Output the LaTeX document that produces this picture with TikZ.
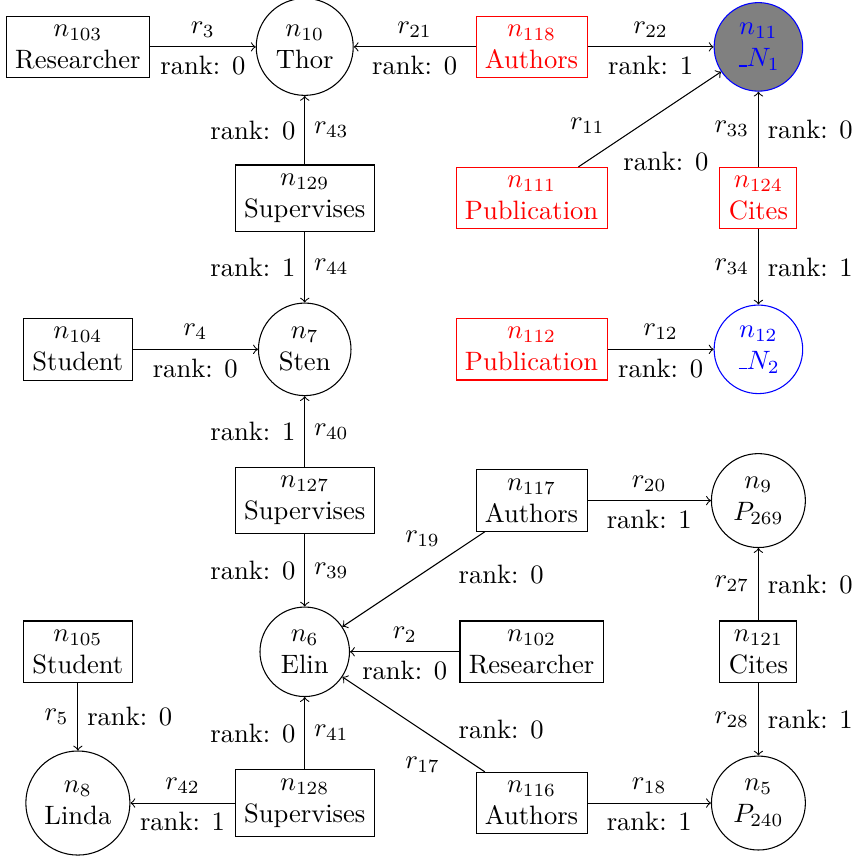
\documentclass[tikz,border=0pt]{standalone}
\usetikzlibrary{arrows}
\newcommand\myunderscore{\leavevmode\kern.06em\vbox{\hrule width.3em}}
\begin{document}
\begin{tikzpicture}[
  ent/.style={circle,draw,align=center},
  hl/.style={circle,draw=blue,text=blue,align=center},
  hlfill/.style={circle,draw=blue,fill=gray,text=blue,align=center},
  rel/.style={rectangle,draw,align=center},
  redrel/.style={rectangle,draw=red,text=red,align=center},
  edge/.style={->}
]
\useasboundingbox (-1.03,-10.78) rectangle (10.33,0.62);
% nodes
\node[rel] (n103) at (0,0) {$n_{103}$\\Researcher};
\node[ent] (n10) at (3,0) {$n_{10}$\\Thor};
\node[redrel] (n118) at (6,0) {$n_{118}$\\Authors};
\node[hlfill] (n11) at (9,0) {$n_{11}$\\\myunderscore$N_1$};
\node[rel] (n129) at (3,-2) {$n_{129}$\\Supervises};
\node[redrel] (n111) at (6,-2) {$n_{111}$\\Publication};
\node[redrel] (n124) at (9,-2) {$n_{124}$\\Cites};
\node[rel] (n104) at (0,-4) {$n_{104}$\\Student};
\node[ent] (n7) at (3,-4) {$n_{7}$\\Sten};
\node[redrel] (n112) at (6,-4) {$n_{112}$\\Publication};
\node[hl] (n12) at (9,-4) {$n_{12}$\\\myunderscore$N_2$};
\node[rel] (n127) at (3,-6) {$n_{127}$\\Supervises};
\node[rel] (n117) at (6,-6) {$n_{117}$\\Authors};
\node[ent] (n9) at (9,-6) {$n_{9}$\\$P_{269}$};
\node[rel] (n105) at (0,-8) {$n_{105}$\\Student};
\node[ent] (n6) at (3,-8) {$n_{6}$\\Elin};
\node[rel] (n102) at (6,-8) {$n_{102}$\\Researcher};
\node[rel] (n121) at (9,-8) {$n_{121}$\\Cites};
\node[ent] (n8) at (0,-10) {$n_{8}$\\Linda};
\node[rel] (n128) at (3,-10) {$n_{128}$\\Supervises};
\node[rel] (n116) at (6,-10) {$n_{116}$\\Authors};
\node[ent] (n5) at (9,-10) {$n_{5}$\\$P_{240}$};
% horizontal edges
\draw[edge] (n103) -- (n10) node[midway,above] {$r_{3}$} node[midway,below] {rank: 0};
\draw[edge] (n118) -- (n10) node[midway,above] {$r_{21}$} node[midway,below] {rank: 0};
\draw[edge] (n118) -- (n11) node[midway,above] {$r_{22}$} node[midway,below] {rank: 1};
\draw[edge] (n104) -- (n7) node[midway,above] {$r_{4}$} node[midway,below] {rank: 0};
\draw[edge] (n112) -- (n12) node[midway,above] {$r_{12}$} node[midway,below] {rank: 0};
\draw[edge] (n117) -- (n9) node[midway,above] {$r_{20}$} node[midway,below] {rank: 1};
\draw[edge] (n102) -- (n6) node[midway,above] {$r_{2}$} node[midway,below] {rank: 0};
\draw[edge] (n128) -- (n8) node[midway,above] {$r_{42}$} node[midway,below] {rank: 1};
\draw[edge] (n116) -- (n5) node[midway,above] {$r_{18}$} node[midway,below] {rank: 1};
% vertical edges
\draw[edge] (n129) -- (n10) node[midway,left] {rank: 0} node[midway,right] {$r_{43}$};
\draw[edge] (n129) -- (n7) node[midway,left] {rank: 1} node[midway,right] {$r_{44}$};
\draw[edge] (n124) -- (n11) node[midway,left] {$r_{33}$} node[midway,right] {rank: 0};
\draw[edge] (n124) -- (n12) node[midway,left] {$r_{34}$} node[midway,right] {rank: 1};
\draw[edge] (n127) -- (n7) node[midway,left] {rank: 1} node[midway,right] {$r_{40}$};
\draw[edge] (n127) -- (n6) node[midway,left] {rank: 0} node[midway,right] {$r_{39}$};
\draw[edge] (n121) -- (n9) node[midway,left] {$r_{27}$} node[midway,right] {rank: 0};
\draw[edge] (n121) -- (n5) node[midway,left] {$r_{28}$} node[midway,right] {rank: 1};
\draw[edge] (n105) -- (n8) node[midway,left] {$r_{5}$} node[midway,right] {rank: 0};
\draw[edge] (n128) -- (n6) node[midway,left] {rank: 0} node[midway,right] {$r_{41}$};
% diagonal edges
\draw[edge] (n111) -- (n11) node[near start,above left] {$r_{11}$} node[near start,below right] {rank: 0};
\draw[edge] (n117) -- (n6) node[near start,above left] {$r_{19}$} node[near start,below right] {rank: 0};
\draw[edge] (n116) -- (n6) node[near start,below left] {$r_{17}$} node[near start,above right] {rank: 0};
\end{tikzpicture}
\end{document}
